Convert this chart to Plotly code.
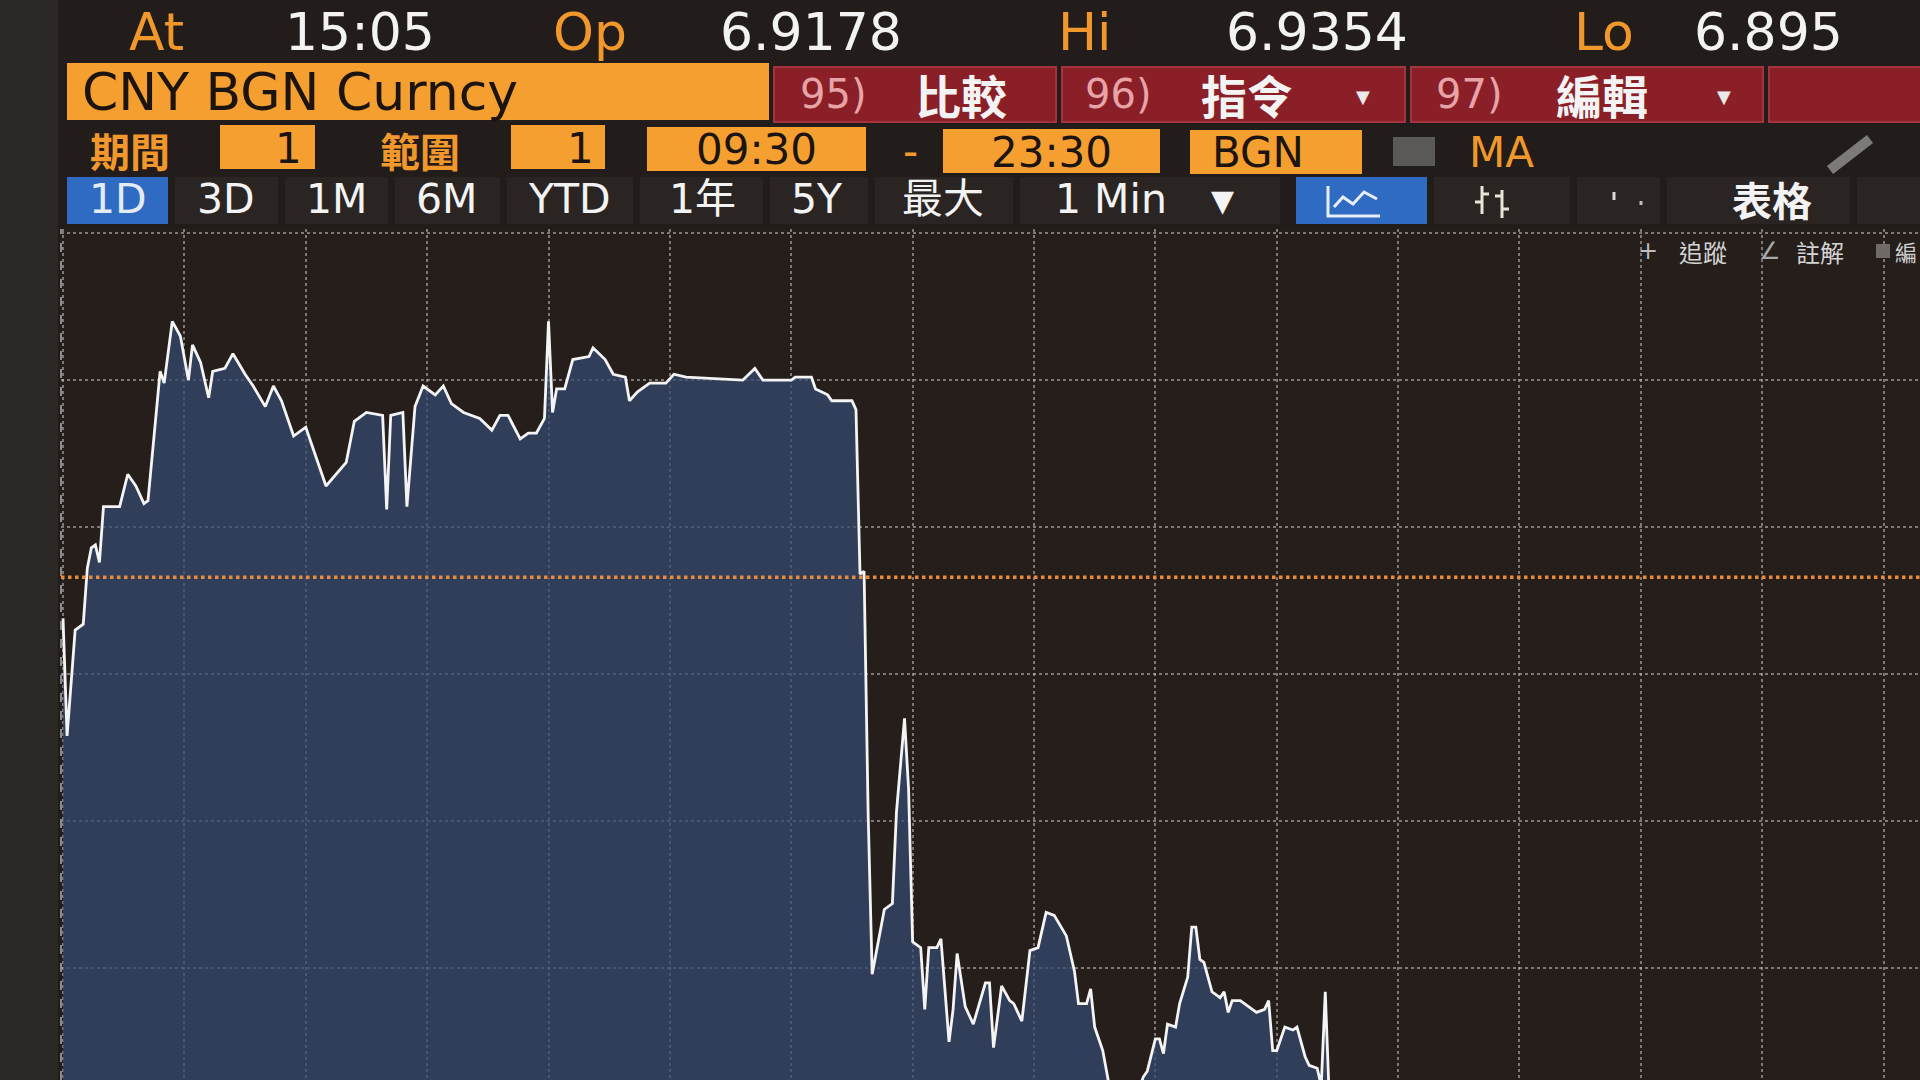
import plotly.graph_objects as go

# ---------------- data (1-minute USD/CNY trace, minutes after 09:30 open) -------------
minutes = [0, 1, 3, 5, 6, 7, 8, 9, 10, 14, 16, 18, 20, 21, 24, 25, 27, 29, 31, 32,
           34, 36, 37, 40, 42, 45, 47, 50, 52, 54, 57, 60, 63, 65, 70, 72, 75, 79, 80, 81,
           84, 85, 87, 89, 92, 94, 96, 99, 103, 106, 108, 110, 113, 115, 117, 119, 120, 121, 122, 124,
           126, 130, 131, 134, 136, 139, 140, 142, 145, 149, 151, 154, 168, 171, 173, 180, 181, 185, 186, 189,
           190, 195, 196, 197, 198, 199, 200, 203, 205, 206, 208, 209, 210, 212, 213, 214, 216, 217, 219, 220,
           221, 223, 225, 228, 229, 230, 232, 234, 235, 237, 239, 241, 243, 245, 248, 250, 251, 253, 254, 255,
           257, 259, 263, 265, 267, 268, 270, 271, 272, 273, 275, 276, 278, 279, 280, 281, 282, 284, 286, 287,
           288, 289, 291, 293, 295, 297, 298, 299, 300, 302, 304, 305, 307, 308, 310, 311, 312, 313]
prices = [6.9269, 6.9229, 6.9265, 6.9267, 6.9286, 6.9293, 6.9294, 6.9288, 6.9307, 6.9307,
          6.9318, 6.9314, 6.9308, 6.9309, 6.9353, 6.9349, 6.9370, 6.9365, 6.9350, 6.9362,
          6.9356, 6.9344, 6.9353, 6.9354, 6.9359, 6.9352, 6.9348, 6.9341, 6.9348, 6.9343,
          6.9331, 6.9334, 6.9322, 6.9314, 6.9322, 6.9336, 6.9339, 6.9338, 6.9306, 6.9338,
          6.9339, 6.9307, 6.9341, 6.9348, 6.9345, 6.9348, 6.9342, 6.9339, 6.9337, 6.9333,
          6.9338, 6.9338, 6.9330, 6.9332, 6.9332, 6.9337, 6.9370, 6.9339, 6.9347, 6.9347,
          6.9357, 6.9358, 6.9361, 6.9357, 6.9352, 6.9351, 6.9343, 6.9346, 6.9349, 6.9349,
          6.9352, 6.9351, 6.9350, 6.9354, 6.9350, 6.9350, 6.9351, 6.9351, 6.9347, 6.9345,
          6.9343, 6.9343, 6.9340, 6.9284, 6.9285, 6.9203, 6.9148, 6.9170, 6.9172, 6.9203,
          6.9235, 6.9211, 6.9159, 6.9157, 6.9136, 6.9157, 6.9157, 6.9160, 6.9125, 6.9136,
          6.9155, 6.9137, 6.9131, 6.9145, 6.9145, 6.9123, 6.9144, 6.9139, 6.9138, 6.9132,
          6.9156, 6.9157, 6.9169, 6.9168, 6.9161, 6.9149, 6.9138, 6.9138, 6.9143, 6.9130,
          6.9122, 6.9107, 6.9102, 6.9105, 6.9113, 6.9115, 6.9126, 6.9126, 6.9121, 6.9131,
          6.9130, 6.9138, 6.9147, 6.9164, 6.9164, 6.9153, 6.9152, 6.9142, 6.9140, 6.9142,
          6.9135, 6.9139, 6.9139, 6.9137, 6.9135, 6.9136, 6.9139, 6.9122, 6.9122, 6.9130,
          6.9129, 6.9130, 6.9120, 6.9117, 6.9116, 6.9110, 6.9142, 6.9105]
assert len(minutes) == len(prices)

prev_close = 6.9283

# header texts
ticker = "CNY BGN Curncy"
quote_labels = ["At", "Op", "Hi", "Lo"]
quote_values = ["15:05", "6.9178", "6.9354", "6.895"]
menu_buttons = [("95)", "比較"), ("96)", "指令"), ("97)", "編輯")]
period_tabs = ["1D", "3D", "1M", "6M", "YTD", "1年", "5Y", "最大"]

# ---------------- layout helpers (page pixels -> paper coords) ----------------
W, H = 1920, 1080
L, T = 61, 229


def px(x):
    return (x - L) / (W - L)


def py(y):
    return (H - y) / (H - T)


LAT = "DejaVu Sans, Noto Sans CJK TC, sans-serif"
CJK = "Noto Sans CJK TC, DejaVu Sans, sans-serif"
ORANGE = "#f59f30"
ORANGE_TXT = "#f1982c"
RED = "#8b1f27"
WHITE = "#f3f3f3"

shapes = []
annotations = []


def rect(x0, y0, x1, y1, color, line=None, lw=0):
    shapes.append(dict(type="rect", xref="paper", yref="paper",
                       x0=px(x0), x1=px(x1), y0=py(y1), y1=py(y0),
                       fillcolor=color, line=dict(color=line or color, width=lw)))


def seg(x0, y0, x1, y1, color, width, dash="solid"):
    shapes.append(dict(type="line", xref="paper", yref="paper",
                       x0=px(x0), x1=px(x1), y0=py(y0), y1=py(y1),
                       line=dict(color=color, width=width, dash=dash)))


def text(s, x, y, size, color, family=LAT, anchor="center", weight="normal", vanchor="middle"):
    annotations.append(dict(text=s, xref="paper", yref="paper", x=px(x), y=py(y),
                            xanchor=anchor, yanchor=vanchor, showarrow=False,
                            font=dict(family=family, size=size, color=color, weight=weight)))


# left bezel
rect(0, 0, 58, 1080, "#2c2826")

# row 1: quote line
lab_x = [156, 590, 1085, 1604]
val_x = [360, 811, 1317, None]
for i, (lab, val) in enumerate(zip(quote_labels, quote_values)):
    text(lab, lab_x[i], 0, 52, ORANGE_TXT, vanchor="top")
    if val_x[i] is not None:
        text(val, val_x[i], 0, 52, WHITE, vanchor="top")
    else:
        text(val, 1692, 0, 52, WHITE, anchor="left", vanchor="top")

# row 2: ticker bar and red menu buttons
rect(67, 63, 769, 120, ORANGE)
text(ticker, 80, 92, 52, "#1b1410", anchor="left")
btn = [(774, 1056), (1062, 1405), (1411, 1763)]
num_x = [833, 1118, 1469]
cjk_x = [961, 1247, 1602]
for i, (b0, b1) in enumerate(btn):
    rect(b0, 67, b1, 122, RED, line="#a3333d", lw=2)
    text(menu_buttons[i][0], num_x[i], 94, 40, "#e6a3a8")
    text(menu_buttons[i][1], cjk_x[i], 94, 46, WHITE, family=CJK, weight="bold")
rect(1769, 67, 1930, 122, RED, line="#a3333d", lw=2)
text("▼", 1363, 96, 18, "#e9e9e9")
text("▼", 1724, 96, 18, "#e9e9e9")

# row 3: period / range / session
text("期間", 130, 150, 40, ORANGE_TXT, family=CJK, weight="bold")
rect(220, 125, 315, 169, ORANGE)
text("1", 288, 148, 42, "#1b1410")
text("範圍", 420, 150, 40, ORANGE_TXT, family=CJK, weight="bold")
rect(511, 125, 605, 169, ORANGE)
text("1", 580, 148, 42, "#1b1410")
rect(647, 127, 866, 171, ORANGE)
text("09:30", 756, 150, 42, "#1b1410")
text("-", 910, 151, 42, ORANGE_TXT)
rect(943, 129, 1160, 173, ORANGE)
text("23:30", 1051, 152, 42, "#1b1410")
rect(1190, 130, 1362, 174, ORANGE)
text("BGN", 1258, 153, 42, "#1b1410")
rect(1393, 137, 1435, 166, "#5b5958")
text("MA", 1501, 153, 42, ORANGE_TXT)
seg(1830, 170, 1870, 139, "#7d7b7a", 10)

# row 4: period tabs
tabs = [(67, 168), (175, 278), (285, 388), (395, 500), (507, 633), (640, 763), (770, 868),
        (875, 1013), (1020, 1280), (1296, 1427), (1434, 1570), (1577, 1660), (1667, 1850), (1857, 1930)]
for i, (a, b) in enumerate(tabs):
    col = "#2f6bc2" if i in (0, 9) else "#2a2422"
    rect(a, 177, b, 224, col)
tab_x = [118, 226, 336, 446, 569, 702, 817, 943]
for s, x in zip(period_tabs, tab_x):
    text(s, x, 199, 41, WHITE if s != "1D" else "#e4ebf5")
text("1 Min", 1111, 199, 41, WHITE)
text("▼", 1222, 201, 30, WHITE)
text("表格", 1772, 199, 40, WHITE, family=CJK, weight="bold")
# line-chart icon
shapes.append(dict(type="path", xref="paper", yref="paper",
                   path=f"M {px(1328)},{py(186)} L {px(1328)},{py(216)} L {px(1380)},{py(216)}",
                   line=dict(color="#e8eef8", width=3)))
shapes.append(dict(type="path", xref="paper", yref="paper",
                   path=(f"M {px(1334)},{py(207)} L {px(1343)},{py(197)} L {px(1353)},{py(204)} "
                         f"L {px(1364)},{py(192)} L {px(1377)},{py(199)}"),
                   line=dict(color="#e8eef8", width=3)))
# OHLC icon
seg(1482, 186, 1482, 214, "#e9e4d6", 3)
seg(1475, 202, 1482, 202, "#e9e4d6", 3)
seg(1482, 194, 1489, 194, "#e9e4d6", 3)
seg(1502, 190, 1502, 218, "#e9e4d6", 3)
seg(1495, 196, 1502, 196, "#e9e4d6", 3)
seg(1502, 209, 1509, 209, "#e9e4d6", 3)
# small marks
seg(1614, 192, 1614, 200, "#d8d8d8", 3)
seg(1641, 201, 1641, 205, "#bdbdbd", 3)

# chart toolbar (small)
text("+", 1648, 251, 24, "#bdbdbd")
text("追蹤", 1703, 251, 24, "#d4d4d4", family=CJK)
text("∠", 1770, 251, 24, "#a8a8a8")
text("註解", 1820, 251, 24, "#d4d4d4", family=CJK)
rect(1876, 244, 1890, 258, "#6e6b69")
text("編", 1906, 251, 22, "#cfcfcf", family=CJK)

# chart left axis (dashed)
shapes.append(dict(type="line", xref="paper", yref="paper", x0=0, x1=0, y0=0, y1=1,
                   line=dict(color="#8d8a88", width=2, dash="dash")))
# previous close reference (dotted orange)
shapes.append(dict(type="line", xref="paper", yref="y", x0=0, x1=1,
                   y0=prev_close, y1=prev_close,
                   line=dict(color="#e98b3c", width=3.5, dash="dot")))

fig = go.Figure()
fig.add_trace(go.Scatter(
    x=minutes, y=prices, mode="lines",
    line=dict(color="#f4f4f4", width=2.8),
    fill="tozeroy", fillcolor="rgba(52,74,112,0.74)",
    hoverinfo="skip", showlegend=False,
))

GRID = "rgba(196,196,196,0.55)"
fig.update_layout(
    width=W, height=H, autosize=False,
    margin=dict(l=L, r=0, t=T, b=0, pad=0),
    paper_bgcolor="#221c1a", plot_bgcolor="#251e1b",
    showlegend=False,
    xaxis=dict(range=[-0.5, 459], dtick=30, tick0=0, showgrid=True, gridcolor=GRID,
               gridwidth=1.5, griddash="dot", showticklabels=False, ticks="",
               zeroline=False, showline=False, fixedrange=True),
    yaxis=dict(range=[6.9112, 6.94014], dtick=0.005, tick0=6.94, showgrid=True,
               gridcolor=GRID, gridwidth=2, griddash="dot", showticklabels=False,
               ticks="", zeroline=False, showline=False, fixedrange=True),
    shapes=shapes,
    annotations=annotations,
)

fig.write_html("out.html", config={"displayModeBar": False},
               post_script="document.body.style.margin='0';document.body.style.overflow='hidden';")
